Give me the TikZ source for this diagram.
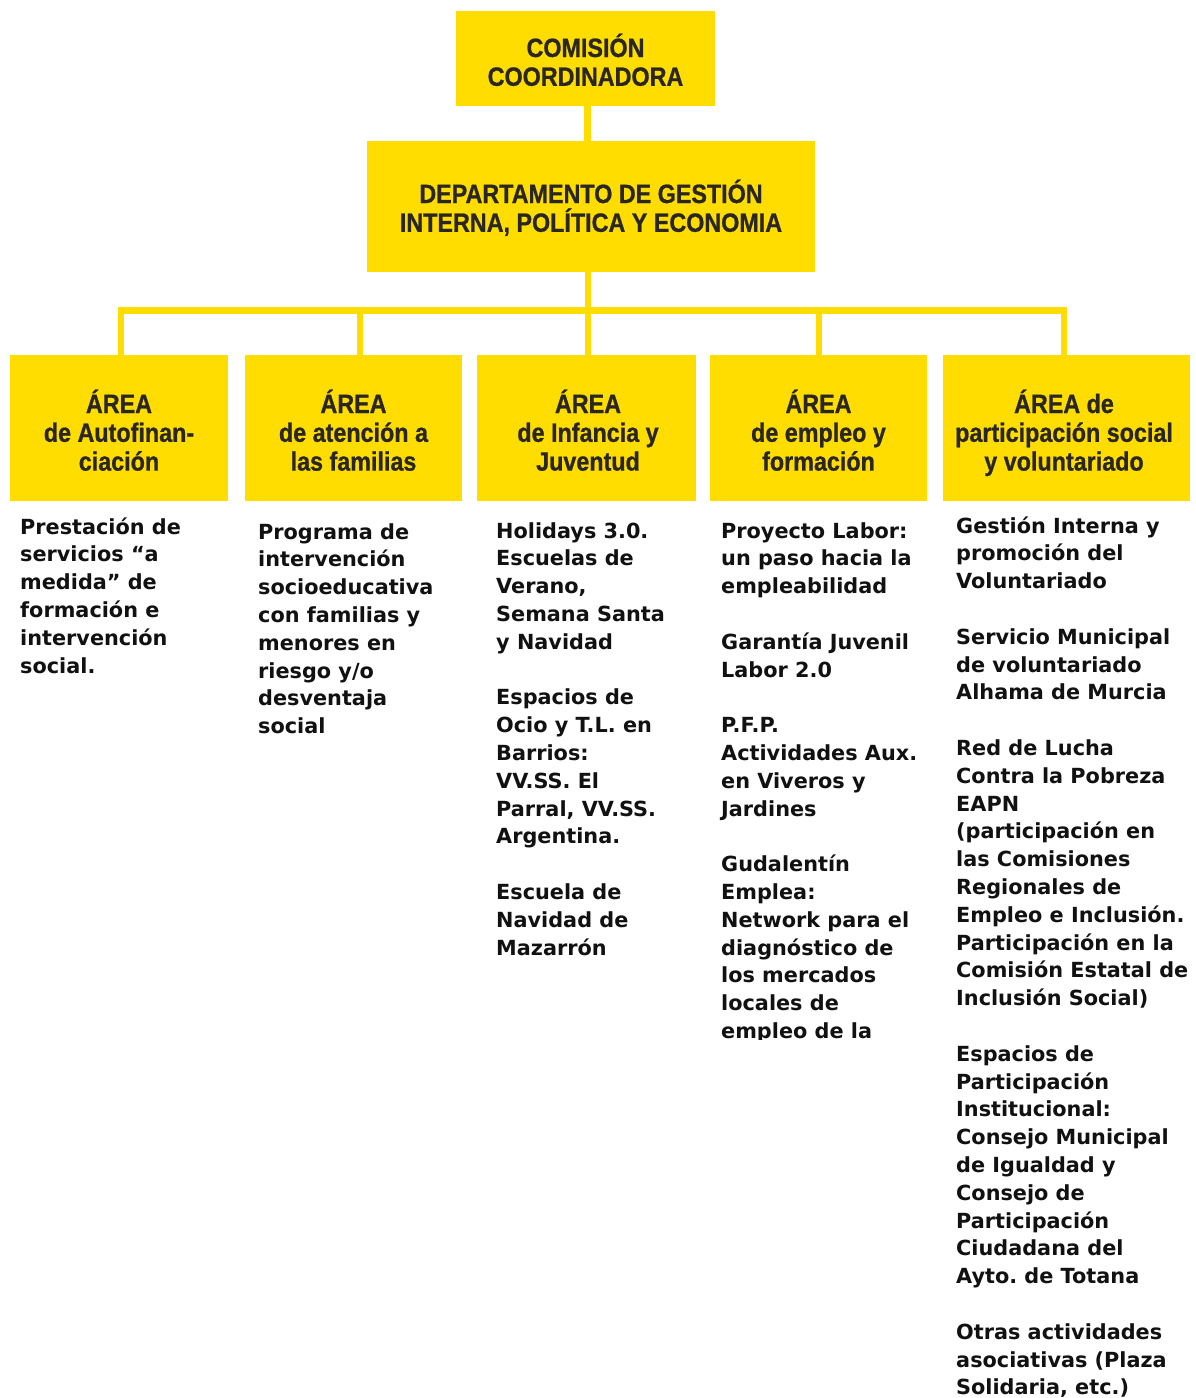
\documentclass[tikz,border=0pt]{standalone}
\usepackage{fontspec}
\newfontfamily\boxfont[FakeStretch=0.88,FakeBold=0.8]{Liberation Sans}
\newfontfamily\bodyfont{DejaVu Sans}
\definecolor{yel}{HTML}{FFDD00}
\definecolor{boxink}{HTML}{2A2622}
\definecolor{bodyink}{HTML}{111111}
\frenchspacing
\tikzset{
  ybox/.style={rectangle, fill=yel, draw=none, inner sep=0pt},
  conn/.style={draw=yel, line width=6.5pt, line join=miter},
  btext/.style={inner sep=0pt, anchor=base, text=boxink, font=\boxfont\bfseries\fontsize{26.5}{29}\selectfont},
  coltext/.style={inner sep=0pt, anchor=base west, text=bodyink, font=\bodyfont\bfseries\fontsize{20.8}{27.8}\selectfont}
}
\newcommand{\btx}[1]{\parbox[t]{400pt}{\centering\baselineskip=28.8pt #1}}
\newcommand{\ctx}[1]{\parbox[t]{250pt}{\raggedright\frenchspacing\baselineskip=27.8pt #1}}
\begin{document}
\begin{tikzpicture}[x=1pt,y=-1pt]
\useasboundingbox (0,0) rectangle (1196,1398);
\fill[white] (0,0) rectangle (1196,1398);

% boxes
\node[ybox, minimum width=259pt, minimum height=95pt] (com) at (585.5,58.5) {};
\node[ybox, minimum width=448pt, minimum height=131pt] (dep) at (591,206.5) {};
\node[ybox, minimum width=218pt, minimum height=146pt] (a1) at (119,428) {};
\node[ybox, minimum width=217pt, minimum height=146pt] (a2) at (353.5,428) {};
\node[ybox, minimum width=219pt, minimum height=146pt] (a3) at (586.5,428) {};
\node[ybox, minimum width=217pt, minimum height=146pt] (a4) at (818.5,428) {};
\node[ybox, minimum width=247pt, minimum height=146pt] (a5) at (1066.5,428) {};

% box texts
\node[btext] (comT) at (585.5,57) {\btx{COMISIÓN\\COORDINADORA}};
\node[btext] (depT) at (591,203) {\btx{DEPARTAMENTO DE GESTIÓN\\INTERNA, POLÍTICA Y ECONOMIA}};
\node[btext] (a1T) at (119,413) {\btx{ÁREA\\de Autofinan-\\ciación}};
\node[btext] (a2T) at (353.5,413) {\btx{ÁREA\\de atención a\\las familias}};
\node[btext] (a3T) at (588,413) {\btx{ÁREA\\de Infancia y\\Juventud}};
\node[btext] (a4T) at (818.5,413) {\btx{ÁREA\\de empleo y\\formación}};
\node[btext] (a5T) at (1064,413) {\btx{ÁREA de\\participación social\\y voluntariado}};

% connectors
\coordinate (j) at (588,310.5);
\coordinate (d1) at (121,310.5);
\coordinate (d2) at (360,310.5);
\coordinate (d4) at (819,310.5);
\coordinate (d5) at (1064,310.5);
\draw[conn] ([xshift=2pt]com.south) -- ([xshift=2pt]com.south |- dep.north);
\draw[conn] (dep.south -| j) -- (j);
\draw[conn] (d1 |- a1.north) -- (d1) -- (d5) -- (d5 |- a5.north);
\draw[conn] (d2) -- (d2 |- a2.north);
\draw[conn] (j) -- (j |- a3.north);
\draw[conn] (d4) -- (d4 |- a4.north);

% column texts
\node[coltext] (c1) at (20,534) {\ctx{Prestación de\\servicios “a\\medida” de\\formación e\\intervención\\social.}};
\node[coltext] (c2) at (258,539) {\ctx{Programa de\\intervención\\socioeducativa\\con familias y\\menores en\\riesgo y/o\\desventaja\\social}};
\node[coltext] (c3) at (496,538) {\ctx{Holidays 3.0.\\Escuelas de\\Verano,\\Semana Santa\\y Navidad\\[27.8pt]Espacios de\\Ocio y T.L. en\\Barrios:\\VV.SS. El\\Parral, VV.SS.\\Argentina.\\[27.8pt]Escuela de\\Navidad de\\Mazarrón}};
\begin{scope}
\clip (700,505) rectangle (940,1039);
\node[coltext] (c4) at (721,538) {\ctx{Proyecto Labor:\\un paso hacia la\\empleabilidad\\[27.8pt]Garantía Juvenil\\Labor 2.0\\[27.8pt]P.F.P.\\Actividades Aux.\\en Viveros y\\Jardines\\[27.8pt]Gudalentín\\Emplea:\\Network para el\\diagnóstico de\\los mercados\\locales de\\empleo de la}};
\end{scope}
\node[coltext] (c5) at (956,533) {\ctx{Gestión Interna y\\promoción del\\Voluntariado\\[27.8pt]Servicio Municipal\\de voluntariado\\Alhama de Murcia\\[27.8pt]Red de Lucha\\Contra la Pobreza\\EAPN\\(participación en\\las Comisiones\\Regionales de\\Empleo e Inclusión.\\Participación en la\\Comisión Estatal de\\Inclusión Social)\\[27.8pt]Espacios de\\Participación\\Institucional:\\Consejo Municipal\\de Igualdad y\\Consejo de\\Participación\\Ciudadana del\\Ayto. de Totana\\[27.8pt]Otras actividades\\asociativas (Plaza\\Solidaria, etc.)}};
\end{tikzpicture}
\end{document}
